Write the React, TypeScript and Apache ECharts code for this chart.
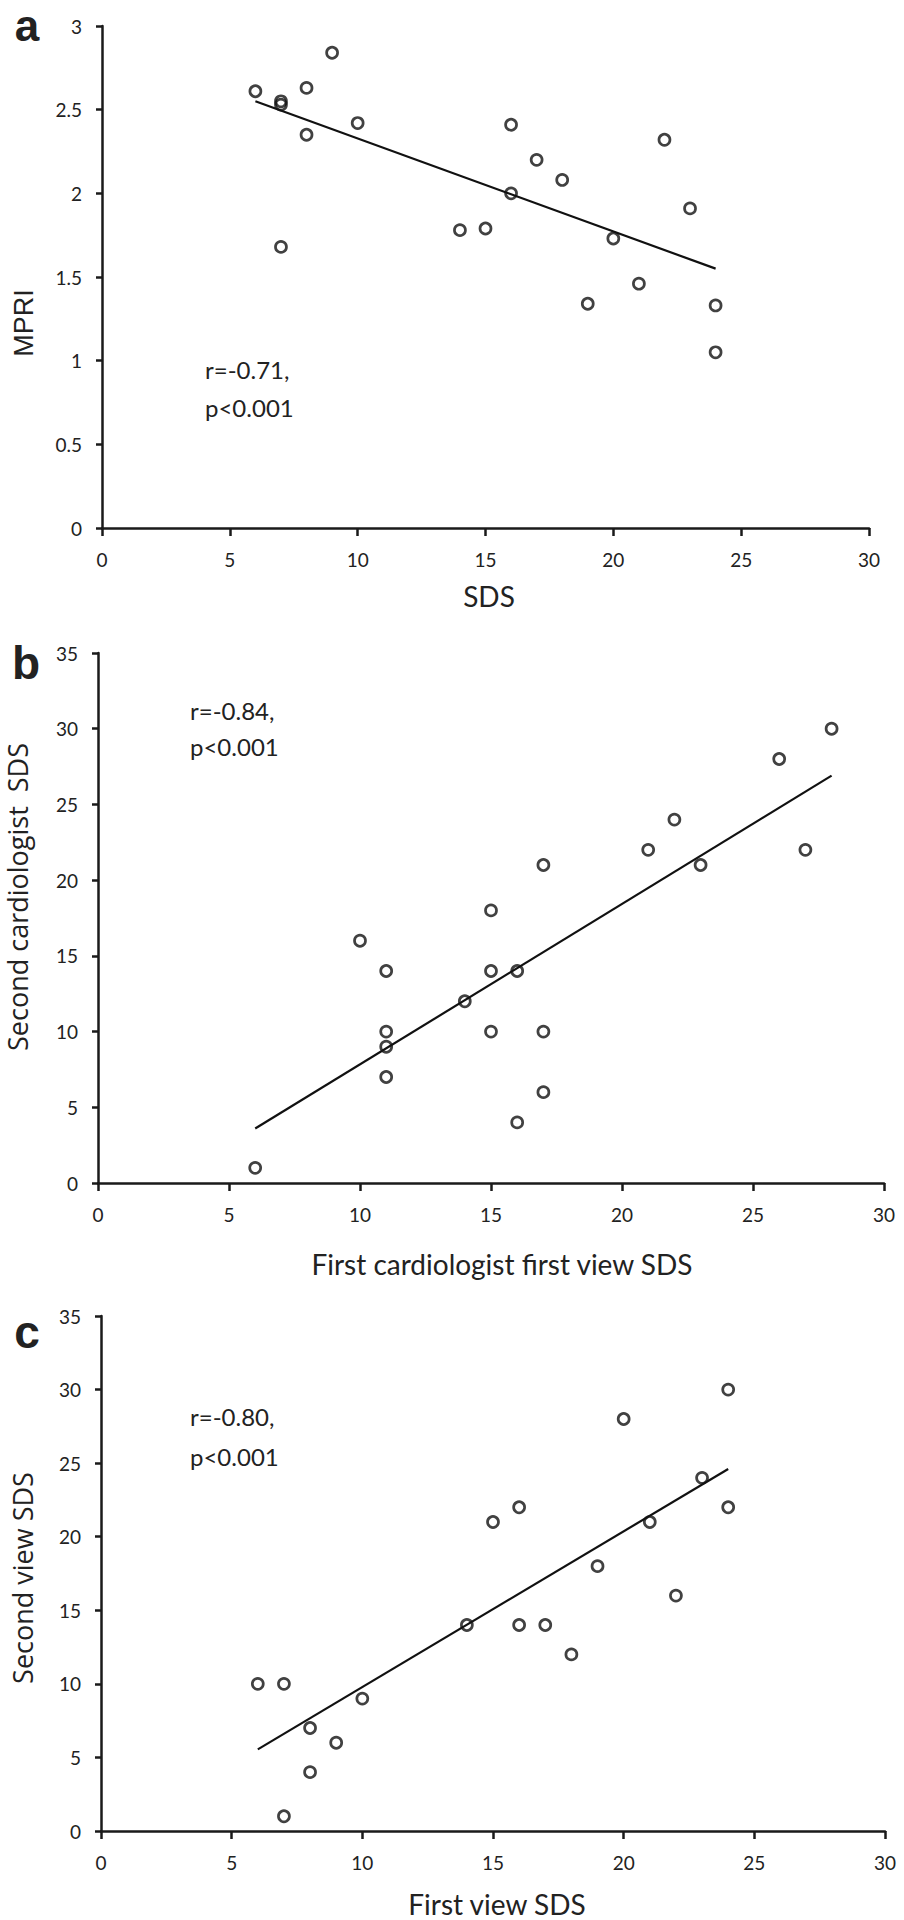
import React, { useEffect, useRef } from "react";
import * as echarts from "echarts";

// Panel a: SDS vs MPRI
const sdsA = [6, 7, 7, 8, 8, 9, 10, 7, 14, 15, 16, 16, 17, 18, 19, 20, 21, 22, 23, 24, 24];
const mpriA = [2.61, 2.55, 2.53, 2.63, 2.35, 2.84, 2.42, 1.68, 1.78, 1.79, 2.41, 2.0, 2.2, 2.08, 1.34, 1.73, 1.46, 2.32, 1.91, 1.33, 1.05];
const trendA = [[6, 2.55], [24, 1.55]];

// Panel b: first cardiologist first view SDS vs second cardiologist SDS
const firstB = [6, 10, 11, 11, 11, 11, 14, 15, 15, 15, 16, 16, 17, 17, 17, 21, 22, 23, 26, 27, 28];
const secondB = [1, 16, 14, 10, 9, 7, 12, 18, 14, 10, 14, 4, 21, 10, 6, 22, 24, 21, 28, 22, 30];
const trendB = [[6, 3.6], [28, 26.9]];

// Panel c: first view SDS vs second view SDS
const firstC = [6, 7, 7, 8, 8, 9, 10, 14, 15, 16, 16, 17, 18, 19, 20, 21, 22, 23, 24, 24];
const secondC = [10, 10, 1, 7, 4, 6, 9, 14, 21, 22, 14, 14, 12, 18, 28, 21, 16, 24, 22, 30];
const trendC = [[6, 5.55], [24, 24.6]];

const xTicks = { min: 0, max: 30, interval: 5 };
const yTicksA = { min: 0, max: 3, interval: 0.5 };
const yTicksBC = { min: 0, max: 35, interval: 5 };

const INK = "#1a1a1a";
const TXT = "#222";

function zip(xs: number[], ys: number[]) {
  return xs.map((x, i) => [x, ys[i]]);
}

function axis(kind: "x" | "y", idx: number, t: { min: number; max: number; interval: number }) {
  return {
    type: "value",
    gridIndex: idx,
    min: t.min,
    max: t.max,
    interval: t.interval,
    axisLine: { show: true, onZero: false, lineStyle: { color: INK, width: 2.5 } },
    axisTick: { show: true, inside: false, length: kind === "x" ? 8 : 6, lineStyle: { color: INK, width: 2.5 } },
    splitLine: { show: false },
    axisLabel: {
      fontFamily: "Lato",
      fontSize: 19,
      color: TXT,
      margin: kind === "x" ? 22 : 20,
    },
  };
}

function scatter(idx: number, data: number[][]) {
  return {
    type: "scatter",
    xAxisIndex: idx,
    yAxisIndex: idx,
    data,
    symbol: "circle",
    symbolSize: 11,
    itemStyle: { color: "rgba(255,255,255,0)", borderColor: "#111", borderWidth: 2.7 },
    z: 3,
  };
}

function trend(idx: number, data: number[][]) {
  return {
    type: "line",
    xAxisIndex: idx,
    yAxisIndex: idx,
    data,
    symbol: "none",
    lineStyle: { color: "#111", width: 2.2 },
    z: 2,
  };
}

function txt(text: string, x: number, y: number, font: string, size: number, opts: any = {}) {
  return {
    type: "text",
    x,
    y,
    rotation: opts.rotation || 0,
    style: {
      text,
      fill: TXT,
      fontFamily: font,
      fontSize: size,
      fontWeight: opts.bold ? "bold" : "normal",
      textAlign: opts.align || "center",
      textVerticalAlign: "middle",
    },
  };
}

export default function App() {
  const ref = useRef<HTMLDivElement>(null);
  useEffect(() => {
    const chart = echarts.init(ref.current!, null, { renderer: "svg" });
    const option = {
      animation: false,
      backgroundColor: "#fff",
      grid: [
        { left: 102, top: 26, width: 767, height: 502 },
        { left: 98, top: 653, width: 786, height: 530 },
        { left: 101, top: 1316, width: 784, height: 515 },
      ],
      xAxis: [axis("x", 0, xTicks), axis("x", 1, xTicks), axis("x", 2, xTicks)],
      yAxis: [axis("y", 0, yTicksA), axis("y", 1, yTicksBC), axis("y", 2, yTicksBC)],
      series: [
        trend(0, trendA),
        scatter(0, zip(sdsA, mpriA)),
        trend(1, trendB),
        scatter(1, zip(firstB, secondB)),
        trend(2, trendC),
        scatter(2, zip(firstC, secondC)),
      ],
      graphic: [
        txt("a", 27, 25, "Liberation Sans", 44, { bold: true }),
        txt("b", 26, 663, "Liberation Sans", 46, { bold: true }),
        txt("c", 27, 1332, "Liberation Sans", 46, { bold: true }),
        txt("MPRI", 24, 323, "Liberation Sans", 27, { rotation: Math.PI / 2 }),
        txt("Second cardiologist  SDS", 17, 897, "Open Sans", 27, { rotation: Math.PI / 2 }),
        txt("Second view SDS", 22, 1578, "Open Sans", 27, { rotation: Math.PI / 2 }),
        txt("SDS", 489, 596, "Lato", 28),
        txt("First cardiologist first view SDS", 502, 1264, "Lato", 28),
        txt("First view SDS", 497, 1904, "Lato", 28),
        txt("r=-0.71,", 205, 369, "Lato", 24, { align: "left" }),
        txt("p<0.001", 205, 407, "Lato", 24, { align: "left" }),
        txt("r=-0.84,", 190, 710, "Lato", 24, { align: "left" }),
        txt("p<0.001", 190, 746, "Lato", 24, { align: "left" }),
        txt("r=-0.80,", 190, 1416, "Lato", 24, { align: "left" }),
        txt("p<0.001", 190, 1456, "Lato", 24, { align: "left" }),
      ],
    };
    chart.setOption(option as any);
    return () => chart.dispose();
  }, []);
  return (
    <div
      ref={ref}
      style={{ position: "absolute", left: 0, top: 0, width: 904, height: 1920, background: "#fff" }}
    />
  );
}
